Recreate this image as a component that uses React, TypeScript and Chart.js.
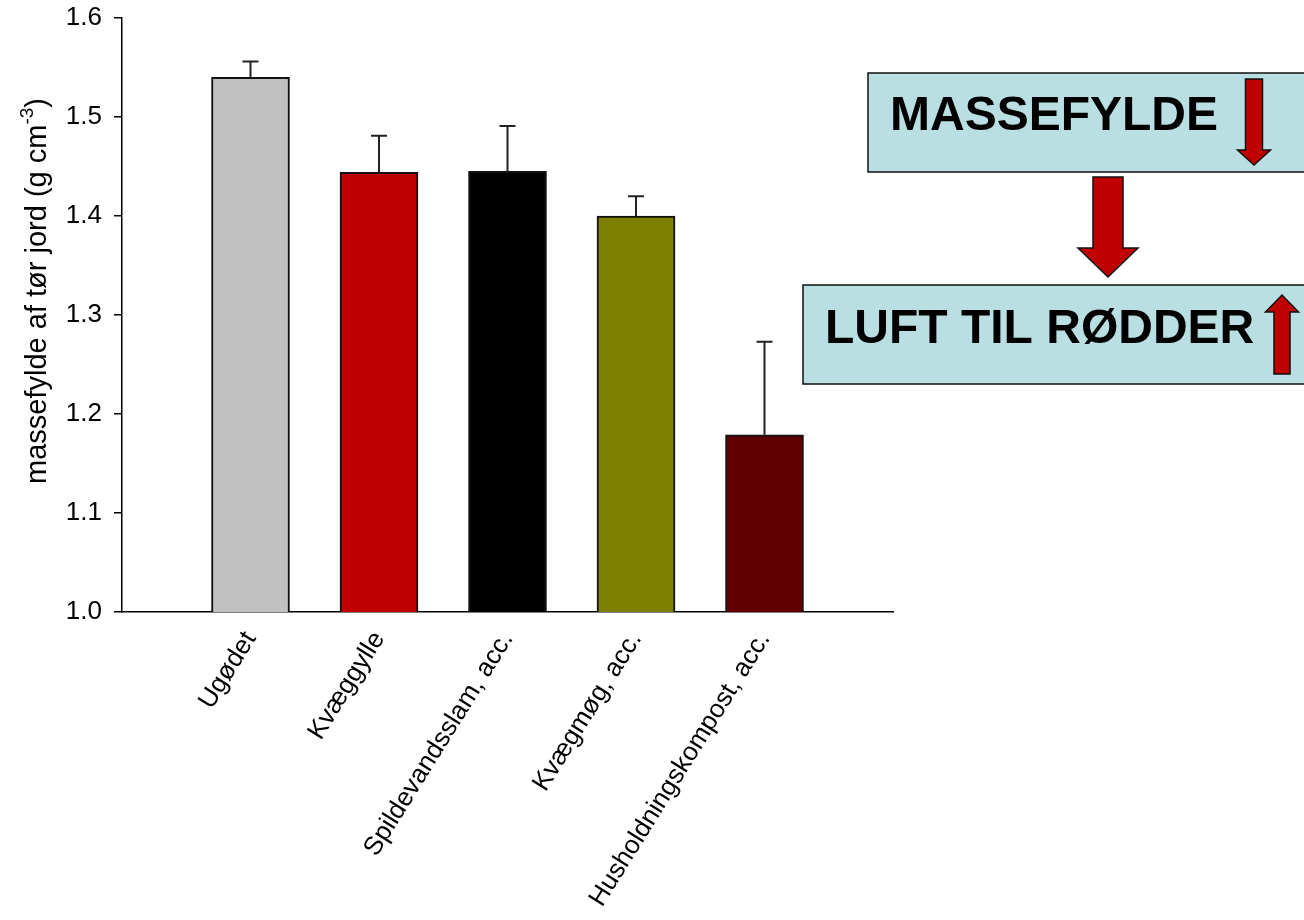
import React, { useEffect, useRef } from "react";
import { Chart, registerables } from "chart.js";

Chart.register(...registerables);

const categories = [
  "Ugødet",
  "Kvæggylle",
  "Spildevandsslam, acc.",
  "Kvægmøg, acc.",
  "Husholdningskompost, acc.",
];
const values = [1.54, 1.444, 1.445, 1.4, 1.179];
const errors = [0.016, 0.037, 0.046, 0.02, 0.094];
const barColors = ["#c0c0c0", "#c00000", "#000000", "#808000", "#600000"];
const yTicks = [1.0, 1.1, 1.2, 1.3, 1.4, 1.5, 1.6];
const yTitle = "massefylde af tør jord (g cm";
const yTitleSup = "-3";
const yTitleEnd = ")";
const boxTexts = ["MASSEFYLDE", "LUFT TIL RØDDER"];

const FONT = "'Liberation Sans', Arial, sans-serif";

const errorBarPlugin = {
  id: "errorBars",
  afterDatasetsDraw(chart: any) {
    const ctx = chart.ctx;
    const meta = chart.getDatasetMeta(0);
    const y = chart.scales.y;
    ctx.save();
    ctx.strokeStyle = "#222";
    ctx.lineWidth = 2;
    values.forEach((v, i) => {
      const el = meta.data[i + 1];
      if (!el) return;
      const x = el.x;
      const y0 = y.getPixelForValue(v);
      const y1 = y.getPixelForValue(v + errors[i]);
      ctx.beginPath();
      ctx.moveTo(x, y0);
      ctx.lineTo(x, y1);
      ctx.moveTo(x - 8, y1);
      ctx.lineTo(x + 8, y1);
      ctx.stroke();
    });
    ctx.restore();
  },
};

const yTitlePlugin = {
  id: "yTitleSup",
  afterDraw(chart: any) {
    const ctx = chart.ctx;
    ctx.save();
    const main = `29px ${FONT}`;
    const small = `19px ${FONT}`;
    ctx.font = main;
    const w1 = ctx.measureText(yTitle).width;
    const w3 = ctx.measureText(yTitleEnd).width;
    ctx.font = small;
    const w2 = ctx.measureText(yTitleSup).width;
    const total = w1 + w2 + w3;
    ctx.translate(46, 291);
    ctx.rotate(-Math.PI / 2);
    ctx.fillStyle = "#000";
    ctx.textBaseline = "alphabetic";
    ctx.textAlign = "left";
    let x = -total / 2;
    ctx.font = main;
    ctx.fillText(yTitle, x, 0);
    x += w1;
    ctx.font = small;
    ctx.fillText(yTitleSup, x, -13);
    x += w2;
    ctx.font = main;
    ctx.fillText(yTitleEnd, x, 0);
    ctx.restore();
  },
};

function arrow(ctx: any, pts: number[][]) {
  ctx.beginPath();
  ctx.moveTo(pts[0][0], pts[0][1]);
  for (let i = 1; i < pts.length; i++) ctx.lineTo(pts[i][0], pts[i][1]);
  ctx.closePath();
  ctx.fillStyle = "#c00000";
  ctx.fill();
  ctx.strokeStyle = "#111";
  ctx.lineWidth = 1.5;
  ctx.stroke();
}

function vArrow(ctx: any, cx: number, base: number, shaftW: number, headW: number, headY: number, tipY: number) {
  arrow(ctx, [
    [cx - shaftW / 2, base],
    [cx + shaftW / 2, base],
    [cx + shaftW / 2, headY],
    [cx + headW / 2, headY],
    [cx, tipY],
    [cx - headW / 2, headY],
    [cx - shaftW / 2, headY],
  ]);
}

const annotationPlugin = {
  id: "annotations",
  afterDraw(chart: any) {
    const ctx = chart.ctx;
    ctx.save();
    ctx.fillStyle = "#b9dfe3";
    ctx.strokeStyle = "#111";
    ctx.lineWidth = 1.5;
    ctx.fillRect(868, 73, 450, 99);
    ctx.strokeRect(868, 73, 450, 99);
    ctx.fillStyle = "#000";
    ctx.font = `bold 48px ${FONT}`;
    ctx.textAlign = "left";
    ctx.textBaseline = "alphabetic";
    ctx.fillText(boxTexts[0], 890, 130);
    vArrow(ctx, 1254, 79, 17, 33, 150, 165);
    vArrow(ctx, 1108, 177, 30, 60, 248, 277);
    ctx.fillStyle = "#b9dfe3";
    ctx.strokeStyle = "#111";
    ctx.lineWidth = 1.5;
    ctx.fillRect(803, 285, 520, 99);
    ctx.strokeRect(803, 285, 520, 99);
    ctx.fillStyle = "#000";
    ctx.font = `bold 48px ${FONT}`;
    ctx.fillText(boxTexts[1], 825, 343);
    vArrow(ctx, 1282, 374, 16, 33, 312, 295);
    ctx.restore();
  },
};

export default function App() {
  const ref = useRef<HTMLCanvasElement | null>(null);
  useEffect(() => {
    if (!ref.current) return;
    const labels = ["", ...categories, ""];
    const chart = new Chart(ref.current, {
      type: "bar",
      data: {
        labels,
        datasets: [
          {
            data: [null, ...values, null],
            backgroundColor: ["#fff", ...barColors, "#fff"],
            borderColor: "#111",
            borderWidth: 2,
            barThickness: 78,
          } as any,
        ],
      },
      options: {
        animation: false,
        responsive: false,
        devicePixelRatio: 1,
        layout: { padding: { top: 18, right: 411, left: 0, bottom: 0 } },
        plugins: {
          legend: { display: false },
          tooltip: { enabled: false },
          title: { display: false },
        },
        scales: {
          x: {
            type: "category",
            offset: false,
            grid: { display: false, drawTicks: false },
            border: { display: true, color: "#000", width: 1.5 },
            ticks: {
              autoSkip: false,
              maxRotation: 58,
              minRotation: 58,
              padding: 14,
              color: "#000",
              font: { family: FONT, size: 26 },
            },
            afterFit: (s: any) => {
              s.height = 308;
              s.paddingLeft = 0;
              s.paddingRight = 0;
            },
          },
          y: {
            min: 1.0,
            max: 1.6,
            afterBuildTicks: (s: any) => {
              s.ticks = yTicks.map((v) => ({ value: v }));
            },
            ticks: {
              padding: 12,
              color: "#000",
              font: { family: FONT, size: 26 },
              callback: (v: any) => Number(v).toFixed(1),
            },
            grid: {
              display: true,
              drawOnChartArea: false,
              drawTicks: true,
              tickLength: 8,
              color: "#000",
              lineWidth: 1.5,
            },
            border: { display: true, color: "#000", width: 1.5 },
            afterFit: (s: any) => {
              s.width = 122;
              s.paddingTop = 0;
              s.paddingBottom = 0;
            },
          },
        },
      },
      plugins: [errorBarPlugin, yTitlePlugin, annotationPlugin],
    });
    return () => chart.destroy();
  }, []);
  return (
    <div style={{ position: "fixed", left: 0, top: 0, width: 1304, height: 920, background: "#fff" }}>
      <canvas ref={ref} width={1304} height={920} style={{ width: 1304, height: 920 }} />
    </div>
  );
}
